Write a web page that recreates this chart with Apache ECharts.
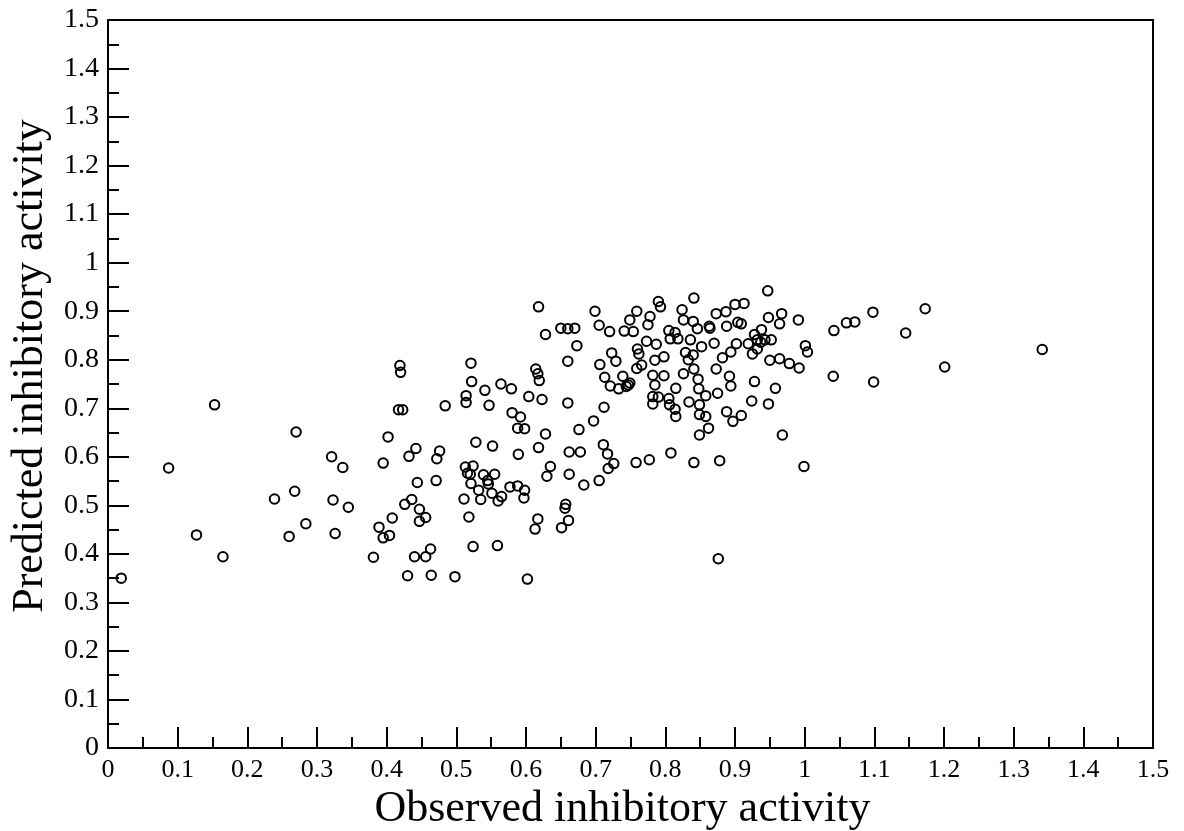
<!DOCTYPE html>
<html>
<head>
<meta charset="utf-8">
<script src="https://cdn.jsdelivr.net/npm/echarts@6/dist/echarts.min.js"></script>
<style>
html,body{margin:0;padding:0;background:#fff;}
#chart{width:1184px;height:831px;}
</style>
</head>
<body>
<div id="chart"></div>
<script>
const observed = [
0.153,0.087,0.270,0.321,0.337,0.268,0.239,0.323,0.345,0.284,0.127,0.260,0.326,0.165,0.381,0.019,
0.419,0.420,0.521,0.522,0.541,0.564,0.579,0.604,0.514,0.514,0.547,0.484,0.417,0.423,0.580,0.592,
0.588,0.598,0.402,0.528,0.552,0.589,0.442,0.432,0.476,0.472,0.395,0.513,0.524,0.516,0.520,0.539,
0.555,0.545,0.546,0.521,0.532,0.551,0.565,0.560,0.577,0.588,0.598,0.597,0.511,0.535,0.444,0.471,
0.436,0.426,0.447,0.456,0.447,0.408,0.389,0.395,0.404,0.518,0.463,0.440,0.456,0.524,0.559,0.430,
0.464,0.498,0.602,
0.618,0.699,0.790,0.793,0.759,0.749,0.778,0.775,0.705,0.720,0.741,0.754,0.650,0.660,0.670,0.628,
0.673,0.805,0.814,0.807,0.818,0.773,0.787,0.760,0.762,0.723,0.729,0.660,0.706,0.785,0.798,0.759,
0.766,0.614,0.617,0.619,0.713,0.739,0.721,0.733,0.744,0.749,0.747,0.782,0.798,0.785,0.815,0.782,
0.790,0.782,0.805,0.806,0.814,0.815,0.623,0.660,0.712,0.697,0.676,0.628,0.618,0.662,0.678,0.711,
0.717,0.726,0.718,0.758,0.777,0.808,0.635,0.630,0.662,0.683,0.705,0.657,0.656,0.617,0.613,0.661,
0.651,
0.947,0.841,0.824,0.900,0.913,0.873,0.887,0.826,0.840,0.846,0.863,0.864,0.888,0.904,0.909,0.948,
0.967,0.964,0.991,0.836,0.852,0.870,0.902,0.919,0.925,0.928,0.938,0.932,0.943,0.952,0.937,0.932,
0.894,0.882,0.829,0.840,0.833,0.950,0.964,0.978,0.992,0.873,0.841,0.826,0.847,0.892,0.894,0.928,
0.848,0.858,0.958,0.875,0.834,0.849,0.924,0.948,0.888,0.897,0.909,0.849,0.858,0.862,0.849,0.968,
0.841,0.878,0.999,0.876,
1.042,1.060,1.072,1.098,1.145,1.173,1.001,1.004,1.041,1.099,1.201,1.341
];
const predicted = [
0.707,0.577,0.651,0.600,0.578,0.529,0.513,0.511,0.496,0.462,0.439,0.436,0.442,0.394,0.393,0.350,
0.788,0.774,0.793,0.755,0.737,0.750,0.740,0.724,0.726,0.712,0.706,0.705,0.697,0.697,0.691,0.682,
0.659,0.658,0.641,0.630,0.622,0.605,0.617,0.601,0.612,0.596,0.587,0.579,0.581,0.566,0.564,0.563,
0.564,0.551,0.544,0.545,0.531,0.525,0.518,0.509,0.538,0.540,0.531,0.515,0.513,0.512,0.547,0.551,
0.512,0.502,0.492,0.475,0.467,0.474,0.455,0.433,0.438,0.476,0.410,0.394,0.394,0.415,0.417,0.355,
0.356,0.353,0.348,
0.909,0.900,0.920,0.909,0.900,0.882,0.889,0.872,0.871,0.858,0.859,0.858,0.865,0.864,0.865,0.852,
0.829,0.860,0.856,0.843,0.843,0.838,0.832,0.822,0.812,0.814,0.797,0.797,0.790,0.799,0.806,0.782,
0.789,0.781,0.771,0.757,0.764,0.766,0.746,0.740,0.745,0.752,0.748,0.768,0.767,0.748,0.741,0.724,
0.723,0.709,0.720,0.707,0.698,0.683,0.718,0.711,0.702,0.674,0.656,0.647,0.619,0.610,0.610,0.625,
0.606,0.586,0.576,0.588,0.594,0.608,0.580,0.560,0.564,0.542,0.551,0.502,0.494,0.472,0.451,0.469,
0.454,
0.942,0.927,0.903,0.914,0.916,0.895,0.899,0.882,0.879,0.864,0.869,0.865,0.869,0.877,0.874,0.887,
0.895,0.874,0.882,0.841,0.827,0.834,0.833,0.833,0.812,0.852,0.862,0.841,0.841,0.841,0.836,0.822,
0.816,0.804,0.815,0.810,0.800,0.799,0.802,0.792,0.783,0.781,0.781,0.771,0.760,0.766,0.746,0.755,
0.740,0.726,0.741,0.731,0.713,0.707,0.715,0.709,0.693,0.673,0.685,0.687,0.683,0.659,0.645,0.645,
0.588,0.592,0.580,0.390,
0.860,0.876,0.878,0.898,0.855,0.905,0.829,0.816,0.766,0.754,0.785,0.821
];
const axisMin = 0, axisMax = 1.5, tickStep = 0.1;
const xTitle = 'Observed inhibitory activity';
const yTitle = 'Predicted inhibitory activity';

const points = observed.map((v, i) => [v, predicted[i]]);
const font = 'Liberation Serif';
function axisCommon(name, gap, labelSize, labelMargin, namePadding) {
  return {
    type: 'value', min: axisMin, max: axisMax, interval: tickStep,
    name: name, nameLocation: 'middle', nameGap: gap,
    nameTextStyle: {fontFamily: font, fontSize: 44, color: '#000', padding: namePadding},
    axisLine: {show: true, onZero: false, lineStyle: {color: '#000', width: 2}},
    axisTick: {show: true, inside: true, length: 21, lineStyle: {color: '#000', width: 2}},
    minorTick: {show: true, splitNumber: 2, length: 11, lineStyle: {color: '#000', width: 2}},
    axisLabel: {fontFamily: font, fontSize: labelSize, color: '#000', margin: labelMargin,
      formatter: v => String(Math.round(v * 10) / 10)},
    splitLine: {show: false}, minorSplitLine: {show: false}
  };
}
const chart = echarts.init(document.getElementById('chart'), null, {renderer: 'canvas'});
chart.setOption({
  backgroundColor: '#fff',
  animation: false,
  grid: {left: 108, right: 31, top: 20, bottom: 83, show: true, borderColor: '#000', borderWidth: 2,
    backgroundColor: 'transparent', containLabel: false, outerBoundsMode: 'none'},
  xAxis: axisCommon(xTitle, 19, 26, 9, [0, 16, 0, 0]),
  yAxis: axisCommon(yTitle, 56, 28, 9, [0, 0, 0, 36]),
  series: [{
    type: 'scatter', data: points, symbol: 'circle', symbolSize: 9.5,
    itemStyle: {color: 'rgba(0,0,0,0)', borderColor: '#000', borderWidth: 2, opacity: 1},
    emphasis: {disabled: true}
  }]
});
</script>
</body>
</html>
